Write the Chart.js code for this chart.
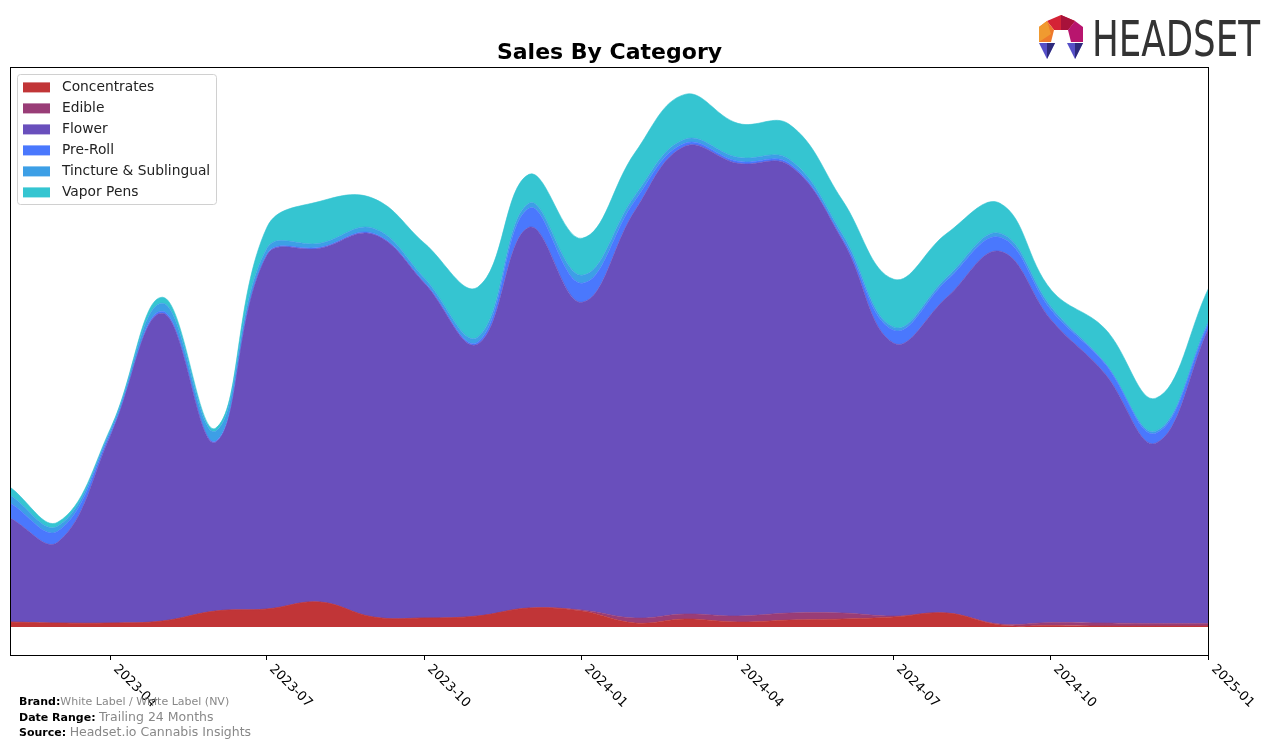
<!DOCTYPE html>
<html lang="en">
<head>
  <meta charset="UTF-8">
  <title>Sales By Category</title>
  <script src="https://cdn.jsdelivr.net/npm/chart.js"></script>
  <style>
    body {
      margin: 0;
      background: #fff;
      font-family: "DejaVu Sans", sans-serif;
    }

    #wrap {
      position: relative;
      width: 1276px;
      height: 747px;
    }

    #logo {
      position: absolute;
      left: 0;
      top: 0;
    }

    #footer {
      position: absolute;
      left: 19px;
      top: 695px;
      font-size: 11px;
      line-height: 14.5px;
      color: #000;
    }

    #footer .v {
      color: #888;
    }

    #footer .big {
      font-size: 12.5px;
    }
  </style>
</head>
<body>
  <div id="wrap">
    <canvas id="myChart" width="1276" height="747"></canvas>

    <svg id="logo" width="1276" height="70">
      <polygon points="1047,21 1061,15 1075,21 1068,30 1054,30" fill="#d42336"/>
      <polygon points="1061,15 1075,21 1068,30 1061,30" fill="#a8123a"/>
      <polygon points="1047,21 1054,30 1051,42 1039,42 1039,27" fill="#ee7a2c"/>
      <polygon points="1039,27 1047,21 1051,34 1039,42" fill="#f09a30"/>
      <polygon points="1075,21 1083,27 1083,42 1071,42 1068,30" fill="#b8156e"/>
      <polygon points="1039,43 1055,43 1047,59" fill="#5650c8"/>
      <polygon points="1047,43 1055,43 1047,59" fill="#2e2a7c"/>
      <polygon points="1067,43 1083,43 1075,59" fill="#5650c8"/>
      <polygon points="1075,43 1083,43 1075,59" fill="#2e2a7c"/>
      <text x="1092" y="56" font-family="DejaVu Sans Condensed, DejaVu Sans, sans-serif" font-size="50" fill="#333" textLength="168" lengthAdjust="spacingAndGlyphs">HEADSET</text>
    </svg>

    <div id="footer">
      <div><b>Brand:</b><span class="v">White Label / White Label (NV)</span></div>
      <div><b>Date Range:</b> <span class="v big">Trailing 24 Months</span></div>
      <div><b>Source:</b> <span class="v big">Headset.io Cannabis Insights</span></div>
    </div>
  </div>

  <script>
    // monthly points, first of each month
    const months = ['2023-02', '2023-03', '2023-04', '2023-05', '2023-06', '2023-07', '2023-08', '2023-09',
                    '2023-10', '2023-11', '2023-12', '2024-01', '2024-02', '2024-03', '2024-04', '2024-05',
                    '2024-06', '2024-07', '2024-08', '2024-09', '2024-10', '2024-11', '2024-12', '2025-01'];

    const concentrates = [5, 4, 4, 6, 16, 18, 25, 10, 9, 11, 19, 16, 4, 8, 5, 7, 8, 10, 14, 2, 1.5, 1, 1, 1];
    const edible = [0, 0, 0, 0, 0, 0, 0, 0, 0, 0, 0, 1, 5, 5, 6, 7, 6, 1, 0, 1, 3, 3, 2.5, 2.5];
    const flower = [104, 81, 189, 308, 169, 354, 354, 383, 335, 272, 381, 308,
                    408, 468, 453, 448, 373, 273, 316, 373, 302.5, 250, 180.5, 296.5];
    const preRoll = [15, 11, 2, 2, 1, 1, 1, 1, 1, 2, 19, 19, 10, 3, 2, 2, 2, 13, 17, 14, 10, 10, 10, 5];
    const tincture = [8, 5, 3, 8, 10, 6, 4, 5, 4, 5, 5, 8, 5, 4, 4, 4, 4, 3, 3, 4, 3, 1, 2, 2];
    const vaporPens = [8, 4, 2, 6, 3, 21, 42, 30, 35, 50, 29, 37, 43, 45, 34, 35, 34, 48, 44, 30, 17, 34, 33, 33];

    const tickLabels = ['2023-04', '2023-07', '2023-10', '2024-01', '2024-04', '2024-07', '2024-10', '2025-01'];

    const t0 = Date.UTC(2023, 1, 1);
    function dayOf(s) {
      return (Date.UTC(+s.slice(0, 4), +s.slice(5, 7) - 1, 1) - t0) / 864e5;
    }

    function series(label, values, color, idx) {
      return {
        label: label,
        data: months.map((m, k) => ({ x: dayOf(m), y: values[k] })),
        backgroundColor: color,
        borderColor: color,
        borderWidth: 0.6,
        fill: idx === 0 ? 'origin' : '-1',
        pointRadius: 0,
        tension: 0.4
      };
    }

    // frame, x ticks (rotated like the original) and the legend inside the plot
    const decorations = {
      id: 'decorations',
      afterDraw(chart) {
        const ctx = chart.ctx;
        const a = chart.chartArea;
        const x = chart.scales.x;
        ctx.save();
        ctx.strokeStyle = '#000';
        ctx.lineWidth = 1;
        ctx.strokeRect(Math.round(a.left) + 0.5, Math.round(a.top) + 0.5,
                       Math.round(a.width) - 1, Math.round(a.height));

        ctx.font = '13px "DejaVu Sans"';
        ctx.fillStyle = '#000';
        tickLabels.forEach(function(l) {
          const px = Math.round(x.getPixelForValue(dayOf(l))) - 0.5;
          ctx.beginPath();
          ctx.moveTo(px, a.bottom);
          ctx.lineTo(px, a.bottom + 5);
          ctx.stroke();
          ctx.save();
          ctx.translate(px + 5, a.bottom + 12);
          ctx.rotate(Math.PI / 4);
          ctx.textAlign = 'left';
          ctx.textBaseline = 'middle';
          ctx.fillText(l, 0, 0);
          ctx.restore();
        });

        // legend
        const sets = chart.data.datasets;
        const lx = a.left + 7, ly = a.top + 7, rowH = 21;
        ctx.font = '13.8px "DejaVu Sans"';
        let textW = 0;
        sets.forEach(function(d) { textW = Math.max(textW, ctx.measureText(d.label).width); });
        const boxW = 6 + 27 + 12 + textW + 6;
        const boxH = sets.length * rowH + 4;
        ctx.fillStyle = 'rgba(255,255,255,0.8)';
        ctx.strokeStyle = '#d0d0d0';
        ctx.beginPath();
        ctx.roundRect(Math.round(lx) + 0.5, Math.round(ly) + 0.5, Math.round(boxW), Math.round(boxH), 3);
        ctx.fill();
        ctx.stroke();
        ctx.textAlign = 'left';
        ctx.textBaseline = 'middle';
        sets.forEach(function(d, i) {
          const cy = ly + 13 + i * rowH;
          ctx.fillStyle = d.backgroundColor;
          ctx.fillRect(lx + 6, cy - 5, 27, 10);
          ctx.fillStyle = '#222';
          ctx.fillText(d.label, lx + 45, cy);
        });
        ctx.restore();
      }
    };

    const ctx = document.getElementById('myChart').getContext('2d');
    const myChart = new Chart(ctx, {
      type: 'line',
      data: {
        datasets: [
          series('Concentrates', concentrates, '#c13537', 0),
          series('Edible', edible, '#993d77', 1),
          series('Flower', flower, '#694fbc', 2),
          series('Pre-Roll', preRoll, '#4a78fd', 3),
          series('Tincture & Sublingual', tincture, '#3d9fe6', 4),
          series('Vapor Pens', vaporPens, '#35c5d1', 5)
        ]
      },
      options: {
        responsive: false,
        animation: false,
        layout: {
          padding: { left: 10, right: 67, top: 40, bottom: 92 }
        },
        scales: {
          x: { type: 'linear', min: 0, max: 700, display: false },
          y: { stacked: true, min: -28, max: 560, display: false }
        },
        plugins: {
          title: {
            display: true,
            text: 'Sales By Category',
            color: '#000',
            font: { family: '"DejaVu Sans"', size: 22, weight: 'bold' },
            padding: { top: 0, bottom: 1 }
          },
          legend: { display: false },
          tooltip: { enabled: false }
        }
      },
      plugins: [decorations]
    });
  </script>
</body>
</html>
